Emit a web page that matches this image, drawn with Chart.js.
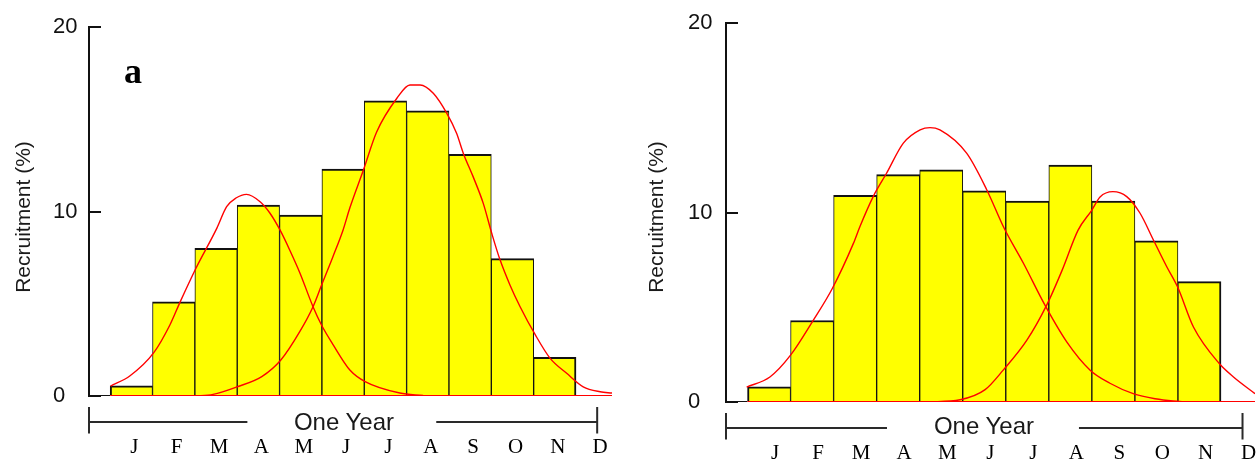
<!DOCTYPE html>
<html><head><meta charset="utf-8">
<script src="https://cdn.jsdelivr.net/npm/chart.js@4.4.1/dist/chart.umd.min.js"></script>
<style>
html,body{margin:0;padding:0;background:#fff;}
#wrap{position:relative;width:1259px;height:460px;overflow:hidden;background:#fff;}
canvas{position:absolute;top:0;}
.lbl{position:absolute;white-space:nowrap;color:#1a1a1a;z-index:5;}
.ytitle{position:absolute;width:220px;height:26px;line-height:26px;text-align:center;white-space:nowrap;color:#1a1a1a;
  font-family:'Liberation Sans',Arial,sans-serif;font-size:21px;transform:rotate(-90deg);transform-origin:50% 50%;z-index:5;}
</style></head><body>
<div id="wrap">
<canvas id="c1" width="614" height="460" style="left:0;width:614px;height:460px"></canvas>
<canvas id="c2" width="629" height="460" style="left:630px;width:629px;height:460px"></canvas>
<div class="ytitle" style="left:-87.5px;top:203.5px;">Recruitment (%)</div>
<div class="ytitle" style="left:546px;top:204px;">Recruitment (%)</div>
<div class="lbl" style="left:124px;top:53px;font:bold 36px/1 'Liberation Serif','Times New Roman',serif;color:#000">a</div>
<div class="lbl" style="left:244px;top:409.5px;width:200px;text-align:center;font:24px/1 'Liberation Sans',Arial,sans-serif;">One Year</div>
<div class="lbl" style="left:884px;top:414px;width:200px;text-align:center;font:24px/1 'Liberation Sans',Arial,sans-serif;">One Year</div>
</div>
<script>
// ---- data ----
const monthLabels = ['J','F','M','A','M','J','J','A','S','O','N','D'];
const monthPositions = [1,2,3,4,5,6,7,8,9,10,11,12];
const barMonths = [1,2,3,4,5,6,7,8,9,10,11];
const yTickValues = [0,10,20];
const yTickLabels = ['0','10','20'];

const leftBars  = [0.55, 5.1, 8.0, 10.35, 9.8, 12.3, 16.0, 15.45, 13.1, 7.45, 2.1];
const rightBars = [0.8, 4.3, 10.9, 12.0, 12.25, 11.15, 10.6, 12.5, 10.6, 8.5, 6.35];

const leftCurve1X = [0.51,0.97,1.53,1.91,2.15,2.52,3.02,3.25,3.47,3.72,4.04,4.27,4.51,4.75,4.98,5.29,5.49,5.77,6.16,6.52,7.34,7.89];
const leftCurve1Y = [0.54,1.1,2.35,3.85,5.09,6.9,9.1,10.26,10.73,10.93,10.53,9.92,9.0,7.86,6.67,4.84,3.85,2.76,1.41,0.78,0.16,0.03];
const leftCurve2X = [2.50,2.93,3.50,4.08,4.53,4.98,5.29,5.49,5.76,6.0,6.16,6.48,6.79,7.27,7.58,7.82,8.13,8.45,8.68,8.84,9.07,9.31,9.51,9.70,9.94,10.18,10.54,10.89,11.28,11.67,12.07,12.35];
const leftCurve2Y = [0,0.09,0.50,1.05,1.95,3.5,4.84,6.0,7.55,9.0,10.2,12.25,14.3,16.14,16.86,16.86,16.41,15.32,14.24,13.15,11.89,10.44,8.82,7.42,6.02,4.84,3.31,2.04,1.23,0.50,0.23,0.16];

const rightCurve1X = [0.48,1.02,1.50,2.03,2.47,2.96,3.11,3.42,3.73,4.12,4.51,4.74,4.97,5.59,6.06,6.46,6.91,7.41,7.92,8.46,8.92,9.46,9.97,10.39,10.70];
const rightCurve1Y = [0.79,1.32,2.47,4.32,5.99,8.37,9.25,10.84,12.07,13.66,14.36,14.48,14.36,13.13,11.19,9.18,7.32,5.11,3.16,1.68,0.99,0.44,0.17,0.05,0.01];
const rightCurve2X = [4.69,5.44,6.02,6.44,6.99,7.45,7.81,8.18,8.50,8.69,8.99,9.31,9.62,9.93,10.24,10.49,10.86,11.46,11.79,12.29];
const rightCurve2Y = [0,0.12,0.65,1.68,3.26,5.11,6.96,9.07,10.13,10.82,11.10,10.84,9.96,8.55,7.14,6.08,3.96,2.03,1.32,0.44];

const leftXMax = 12.35;
const rightXMax = 12.29;

// year bracket positions (months)
const yearStart = 0, yearEnd = 12, gapStart = 3.74, gapEnd = 8.2;

const SANS = "'Liberation Sans', Arial, sans-serif";
const SERIF = "'Liberation Serif', 'Times New Roman', serif";

function pairs(xs, ys){ return xs.map((x,i)=>({x:x, y:ys[i]})); }

const bracketPlugin = {
  id: 'yearBracket',
  afterDraw(chart) {
    const ctx = chart.ctx;
    const xs = chart.scales.x, ys = chart.scales.y;
    const base = ys.getPixelForValue(0);
    const xa = xs.getPixelForValue(yearStart), xb = xs.getPixelForValue(yearEnd);
    const g1 = xs.getPixelForValue(gapStart), g2 = xs.getPixelForValue(gapEnd);
    const yl = base + 26, yt = base + 11, yb = base + 37.5;
    ctx.save();
    ctx.strokeStyle = '#2a2a2a';
    ctx.lineWidth = 2;
    ctx.beginPath();
    ctx.moveTo(xa, yt); ctx.lineTo(xa, yb);
    ctx.moveTo(xa, yl); ctx.lineTo(g1, yl);
    ctx.moveTo(g2, yl); ctx.lineTo(xb, yl);
    ctx.moveTo(xb, yt); ctx.lineTo(xb, yb);
    ctx.stroke();
    ctx.restore();
  }
};

function zeroPad(s){ s.paddingLeft = 0; s.paddingRight = 0; s.paddingTop = 0; s.paddingBottom = 0; }

function buildChart(id, p) {
  const n = p.bars.length;
  return new Chart(document.getElementById(id), {
    type: 'bar',
    data: {
      datasets: [
        {type:'line', data: pairs(p.c1x, p.c1y), borderColor:'#ff0000', borderWidth:1.4, pointRadius:0, cubicInterpolationMode:'monotone', order:1},
        {type:'line', data: pairs(p.c2x, p.c2y), borderColor:'#ff0000', borderWidth:1.4, pointRadius:0, cubicInterpolationMode:'monotone', order:1},
        {type:'line', data: [{x:0.5,y:0},{x:p.xMax,y:0}], borderColor:'#ff0000', borderWidth:2, pointRadius:0, order:1},
        {type:'line', data: [{x:0,y:0},{x:0.5,y:0}], borderColor:'#111', borderWidth:2, pointRadius:0, order:1},
        {type:'bar', data: barMonths.map((m,i)=>({x:m, y:p.bars[i]})),
          backgroundColor:'#ffff00', borderColor:'#111',
          borderWidth: (c)=>({top:2, left: c.dataIndex===0?2:1, right: c.dataIndex===n-1?2:1, bottom:0}),
          borderSkipped:false, barPercentage:1, categoryPercentage:1, order:2}
      ]
    },
    options: {
      responsive:false, animation:false, devicePixelRatio:1,
      layout:{autoPadding:false, padding:{top:p.padTop, right:p.padRight, left:p.padLeft, bottom:0}},
      plugins:{legend:{display:false}, tooltip:{enabled:false}},
      scales:{
        x:{type:'linear', min:0, max:p.xMax, offset:false,
          grid:{display:false, drawTicks:false, offset:false}, border:{display:false},
          afterBuildTicks:(s)=>{ s.ticks = monthPositions.map(v=>({value:v})); },
          afterFit:(s)=>{ s.height = p.xAxisHeight; zeroPad(s); },
          ticks:{autoSkip:false, maxRotation:0, minRotation:0, padding:p.xPad, labelOffset:p.labelOffset, color:'#000',
            font:{family:SERIF, size:21},
            callback:(v)=> monthLabels[monthPositions.indexOf(v)]}
        },
        y:{min:0, max:20,
          afterBuildTicks:(s)=>{ s.ticks = yTickValues.map(v=>({value:v})); },
          afterFit:(s)=>{ s.width = p.yAxisWidth; zeroPad(s); },
          grid:{drawOnChartArea:false, drawTicks:true, tickLength:-12, color:'#111', lineWidth:2},
          border:{display:true, color:'#111', width:2},
          ticks:{crossAlign:'far', padding:20, color:'#111', font:{family:SANS, size:22},
            callback:(v)=> yTickLabels[yTickValues.indexOf(v)]},
          title:{display:false}
        }
      }
    },
    plugins:[bracketPlugin]
  });
}

buildChart('c1', {bars:leftBars, c1x:leftCurve1X, c1y:leftCurve1Y, c2x:leftCurve2X, c2y:leftCurve2Y,
  xMax:leftXMax, padTop:27, padRight:2, padLeft:53, xAxisHeight:64, yAxisWidth:36, xPad:39, labelOffset:3});
buildChart('c2', {bars:rightBars, c1x:rightCurve1X, c1y:rightCurve1Y, c2x:rightCurve2X, c2y:rightCurve2Y,
  xMax:rightXMax, padTop:23, padRight:4, padLeft:58, xAxisHeight:58, yAxisWidth:38, xPad:39, labelOffset:6});
</script>
</body></html>
